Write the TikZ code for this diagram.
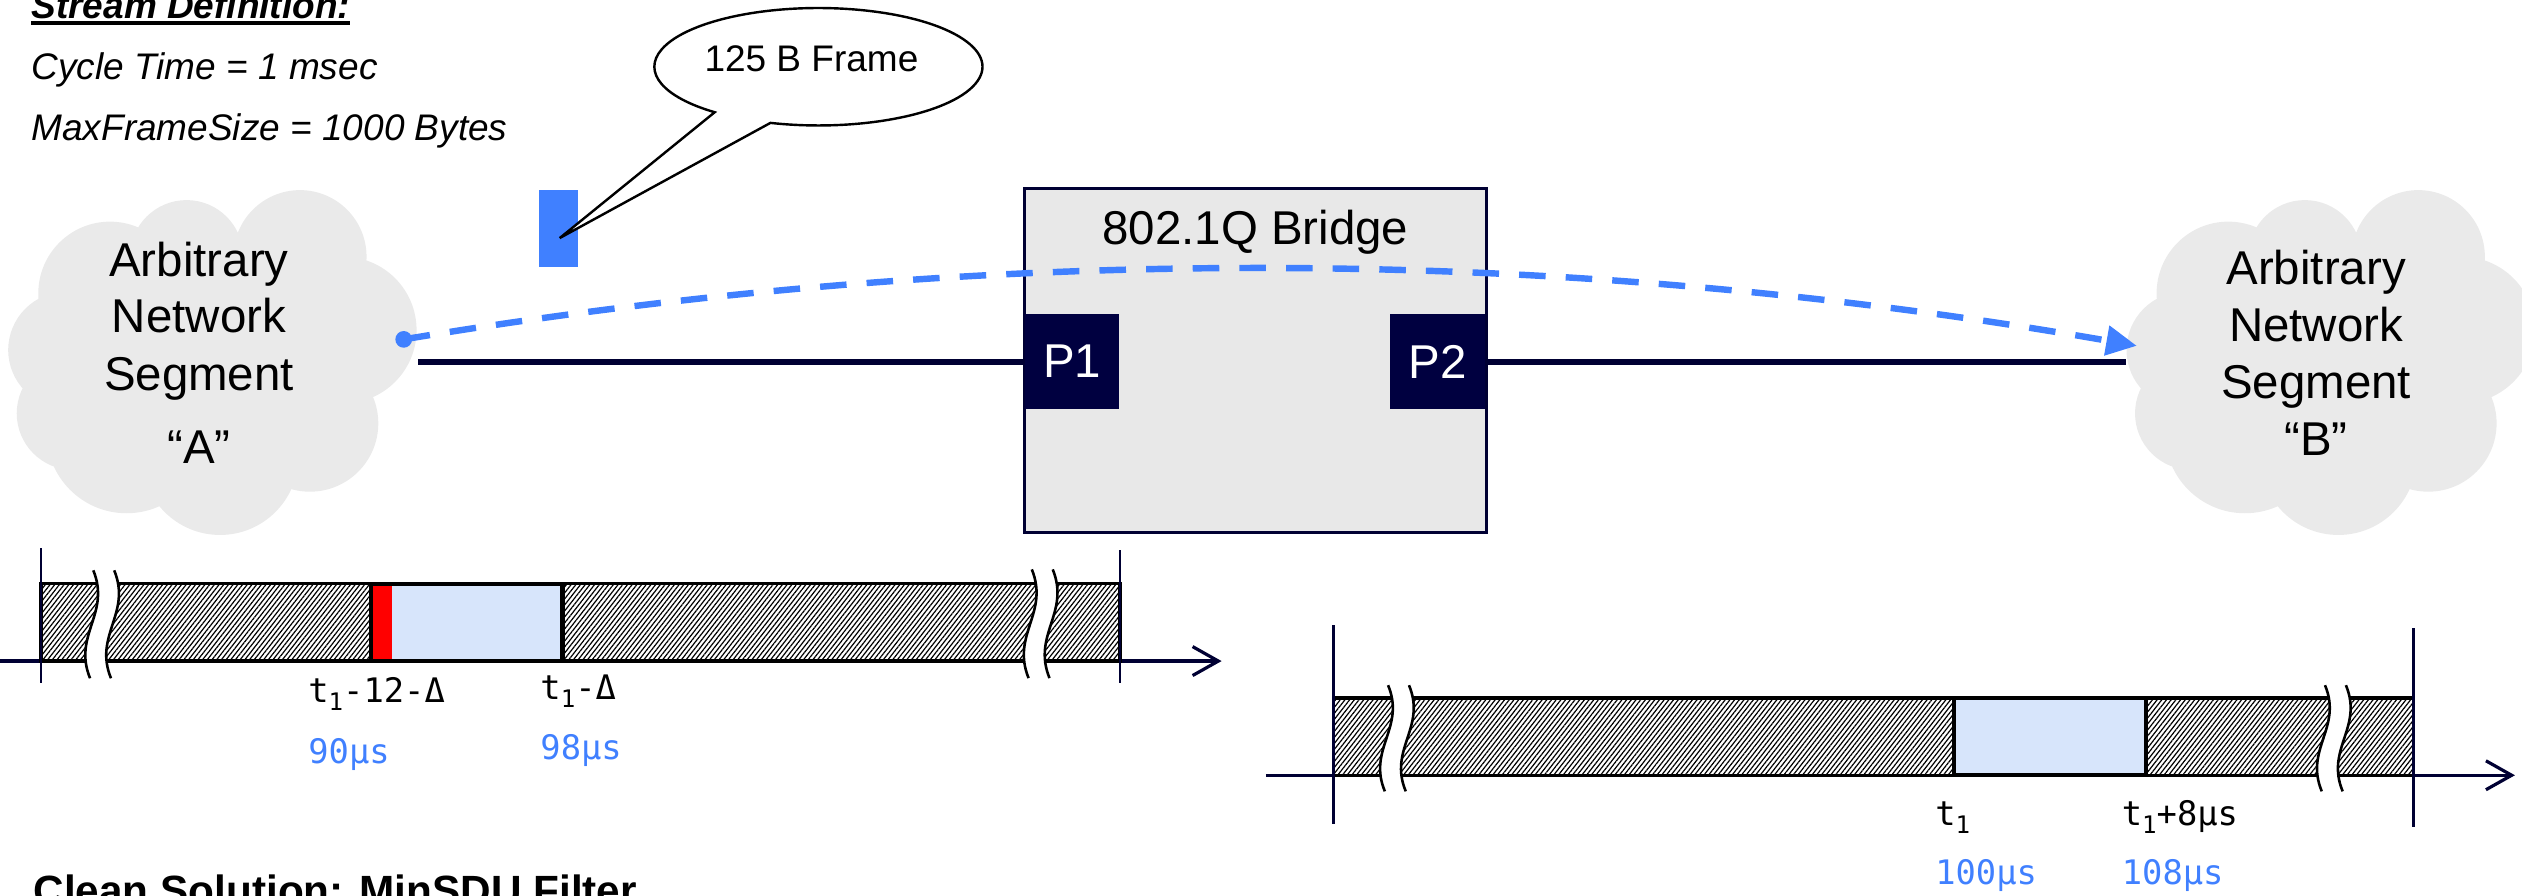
\documentclass[tikz,border=0pt]{standalone}
\usepackage{fontspec}
\setmainfont{Liberation Sans}
\newfontfamily\monofont{DejaVu Sans Mono}
\usetikzlibrary{arrows.meta,patterns.meta}
\definecolor{navy}{HTML}{000033}
\definecolor{portnavy}{HTML}{000040}
\definecolor{myblue}{HTML}{4080FF}
\definecolor{cloudgray}{HTML}{EAEAEA}
\definecolor{bridgegray}{HTML}{E8E8E8}
\definecolor{lightblue}{HTML}{D7E5FB}
\newcommand\tsub[1]{\raisebox{-5pt}{\fontsize{15}{15}\selectfont #1}}
\newcommand\mycloud[1]{%
  \fill[cloudgray, shift={(#1,0)}]
    (68.4,182.4) circle (44.6)
    (116,159.6) circle (35.2)
    (186.5,159.6) circle (41.4)
    (213.4,205.2) circle (45.6)
    (192.7,263.2) circle (42.5)
    (136.8,283.9) circle (48.7)
    (78.7,269.4) circle (49.7)
    (45.6,257) circle (35.2)
    (41.4,217.6) circle (36.3)
    (132.6,225.9) circle (82.9);}
\newcommand\tlbreak[3]{%
  \fill[white] ({#1-6.5+1},#2) .. controls ({#1-6.5+12},{#2+0.4*(#3-#2)}) and ({#1-6.5-12},{#2+0.6*(#3-#2)}) .. ({#1-6.5-1},#3)
     -- ({#1+6.5-1},#3) .. controls ({#1+6.5-12},{#2+0.6*(#3-#2)}) and ({#1+6.5+12},{#2+0.4*(#3-#2)}) .. ({#1+6.5+1},#2) -- cycle;
  \draw[breakline] ({#1-6.5+1},#2) .. controls ({#1-6.5+12},{#2+0.4*(#3-#2)}) and ({#1-6.5-12},{#2+0.6*(#3-#2)}) .. ({#1-6.5-1},#3);
  \draw[breakline] ({#1+6.5+1},#2) .. controls ({#1+6.5+12},{#2+0.4*(#3-#2)}) and ({#1+6.5-12},{#2+0.6*(#3-#2)}) .. ({#1+6.5-1},#3);}
\tikzset{
  cloudtext/.style={anchor=base, inner sep=0, font=\fontsize{29.5}{35}\selectfont},
  deftext/.style={anchor=base west, inner sep=0, font=\fontsize{23}{27}\selectfont\itshape},
  tlabel/.style={anchor=base west, inner sep=0, font=\monofont\fontsize{21}{24}\selectfont},
  tvalue/.style={tlabel, text=myblue},
  hatchbar/.style={pattern={Lines[angle=52,distance=2.3pt,line width=0.75pt]}, pattern color=black},
  barline/.style={black, line width=2},
  slotline/.style={black, line width=2.6},
  axisline/.style={navy, line width=2},
  tickline/.style={navy, line width=1.5},
  breakline/.style={black, line width=1.6},
  linkline/.style={navy, line width=3.8},
  port/.style={fill=portnavy, minimum width=59, minimum height=59.5, inner sep=0, text=white, font=\fontsize{29.5}{35}\selectfont},
}
\begin{document}
\begin{tikzpicture}[x=1pt,y=-1pt]
\useasboundingbox (0,0) rectangle (1568,556.45);

% stream definition text
\node[deftext, font=\fontsize{23}{27}\selectfont\bfseries\itshape] (title) at (19.4,11.4) {Stream Definition:};
\draw[black, line width=2.4] ([yshift=-3pt]title.base west) -- ([yshift=-3pt]title.base east);
\node[deftext] (cycle) at (19.4,49.7) {Cycle Time = 1 msec};
\node[deftext] (maxfs) at (19.4,87.5) {MaxFrameSize = 1000 Bytes};
\node[anchor=base west, inner sep=0, font=\fontsize{26.3}{30}\selectfont\bfseries] (clean) at (20.7,563) {Clean Solution: MinSDU Filter};

% clouds
\mycloud{0}
\mycloud{1317}
\node[cloudtext] (cloudA1) at (123.7,172) {Arbitrary};
\node[cloudtext] (cloudA2) at (123.7,207) {Network};
\node[cloudtext] (cloudA3) at (123.7,242.5) {Segment};
\node[cloudtext] (cloudA4) at (123.7,288) {“A”};
\node[cloudtext] (cloudB1) at (1440,177) {Arbitrary};
\node[cloudtext] (cloudB2) at (1440,212.5) {Network};
\node[cloudtext] (cloudB3) at (1440,248) {Segment};
\node[cloudtext] (cloudB4) at (1440,283) {“B”};

% bridge
\node[draw=navy, line width=1.8, fill=bridgegray, minimum width=287, minimum height=214, inner sep=0] (bridge) at (780.5,224) {};
\node[cloudtext] (bridgelabel) at (780.5,152.3) {802.1Q Bridge};
\node[port] (P1) at (666.5,224.8) {P1};
\node[port] (P2) at (894,224.8) {P2};

% links
\coordinate (cloudAport) at (260,224.8);
\coordinate (cloudBport) at (1322,224.8);
\draw[linkline] (cloudAport) -- (P1.west);
\draw[linkline] (P2.east) -- (cloudBport);

% frame and callout
\node[fill=myblue, minimum width=24.5, minimum height=48, inner sep=0] (frame) at (347.25,142) {};
\coordinate (bubbleR) at (479,76.4);
\coordinate (bubbleTip) at (348,148);
\draw[black, line width=1.5, fill=white] (bubbleR) arc[start angle=253, end angle=590.8, x radius=102pt, y radius=36.5pt] -- (bubbleTip) -- cycle;
\node[anchor=base, inner sep=0, font=\fontsize{23}{27}\selectfont] (bubbletext) at (504.5,44.6) {125 B Frame};

% flow arrow
\coordinate (dotA) at (251,211);
\coordinate (tipB) at (1328.5,215);
\draw[myblue, line width=4, dash pattern=on 16.5pt off 12.5pt, -{Triangle[length=19pt,width=18pt]}] (dotA) .. controls (610.3,151) and (969.3,152.3) .. (tipB);
\fill[myblue] (dotA) circle (5.2);

% timeline 1
\coordinate (ax1s) at (0,411);
\coordinate (ax1e) at (759.5,411);
\draw[axisline, -{Straight Barb[length=16pt,width=18pt]}] (ax1s) -- (ax1e);
\fill[white] (25.5,363) rectangle (696.3,411);
\fill[hatchbar] (25.5,363) rectangle (230.9,411);
\fill[hatchbar] (349.7,363) rectangle (696.3,411);
\fill[red] (230.9,363) rectangle (243.6,411);
\fill[lightblue] (243.6,363) rectangle (349.7,411);
\draw[barline] (25.5,363) rectangle (696.3,411);
\draw[slotline] (230.9,363) rectangle (349.7,411);
\tlbreak{63.5}{354.6}{421.7}
\tlbreak{647}{354}{421.6}
\draw[tickline] (25.5,341) -- (25.5,424.6);
\draw[tickline] (696.3,342) -- (696.3,424.6);
\node[tlabel] (l1a) at (191.5,437) {t\tsub{1}-12-Δ};
\node[tvalue] (l1b) at (191.5,474.5) {90µs};
\node[tlabel] (l1c) at (335.8,435) {t\tsub{1}-Δ};
\node[tvalue] (l1d) at (335.8,472.5) {98µs};

% timeline 2
\coordinate (ax2s) at (787,482);
\coordinate (ax2e) at (1563.6,482);
\draw[axisline, -{Straight Barb[length=16pt,width=18pt]}] (ax2s) -- (ax2e);
\fill[white] (829,434) rectangle (1500.5,482);
\fill[hatchbar] (829,434) rectangle (1215,482);
\fill[hatchbar] (1334,434) rectangle (1500.5,482);
\fill[lightblue] (1215,434) rectangle (1334,482);
\draw[barline] (829,434) rectangle (1500.5,482);
\draw[slotline] (1215,434) rectangle (1334,482);
\tlbreak{868.5}{426}{492}
\tlbreak{1451}{426}{492}
\draw[tickline] (829,388.6) -- (829,512);
\draw[tickline] (1500.5,390.6) -- (1500.5,514);
\node[tlabel] (l2a) at (1203,513) {t\tsub{1}};
\node[tlabel] (l2b) at (1319,513) {t\tsub{1}+8µs};
\node[tvalue] (l2c) at (1203,550) {100µs};
\node[tvalue] (l2d) at (1319,550) {108µs};
\end{tikzpicture}
\end{document}
